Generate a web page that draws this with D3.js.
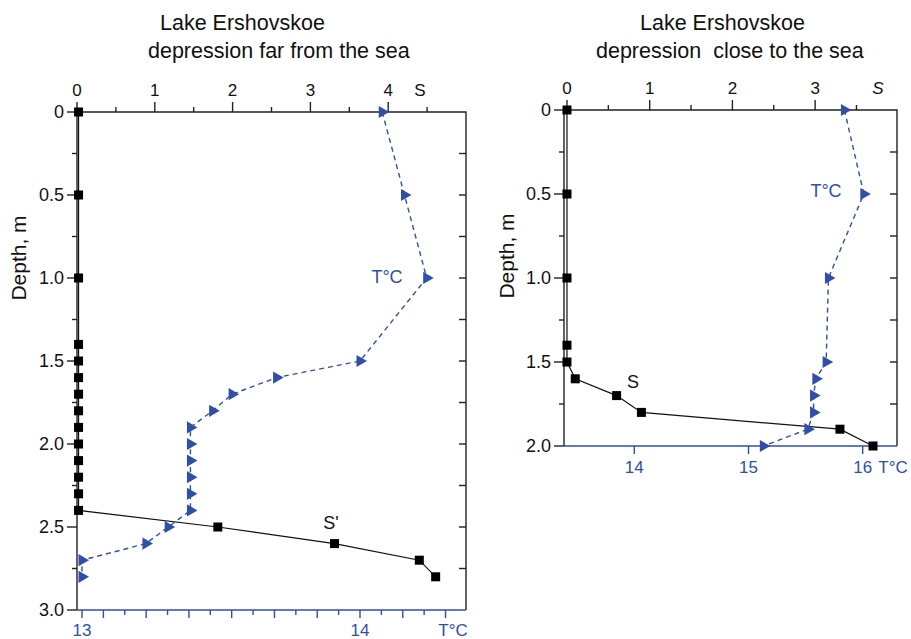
<!DOCTYPE html>
<html><head><meta charset="utf-8">
<script src="https://cdnjs.cloudflare.com/ajax/libs/d3/7.8.5/d3.min.js"></script>
<style>body{margin:0;background:#fff;} svg{display:block;font-family:"Liberation Sans",Arial,sans-serif;}</style>
</head><body><div id="chart"></div>
<script>
// ---- data ----
const titlesLeft = ["Lake Ershovskoe", "depression far from the sea"];
const titlesRight = ["Lake Ershovskoe", "depression  close to the sea"];

const depthTLeft = [0, 0.5, 1.0, 1.5, 1.6, 1.7, 1.8, 1.9, 2.0, 2.1, 2.2, 2.3, 2.4, 2.5, 2.6, 2.7, 2.8];
const tempLeft   = [14.08, 14.16, 14.24, 14.0, 13.70, 13.54, 13.47, 13.39, 13.39, 13.39, 13.39, 13.39, 13.39, 13.31, 13.23, 13.0, 13.0];
const depthSLeft = [0, 0.5, 1.0, 1.4, 1.5, 1.6, 1.7, 1.8, 1.9, 2.0, 2.1, 2.2, 2.3, 2.4, 2.5, 2.6, 2.7, 2.8];
const salLeft    = [0.02, 0.02, 0.02, 0.02, 0.02, 0.02, 0.02, 0.02, 0.02, 0.02, 0.02, 0.02, 0.02, 0.02, 1.81, 3.31, 4.40, 4.61];

const depthTRight = [0, 0.5, 1.0, 1.5, 1.6, 1.7, 1.8, 1.9, 2.0];
const tempRight   = [15.84, 16.01, 15.70, 15.68, 15.59, 15.57, 15.57, 15.52, 15.13];
const depthSRight = [0, 0.5, 1.0, 1.4, 1.5, 1.6, 1.7, 1.8, 1.9, 2.0];
const salRight    = [0, 0, 0, 0, 0, 0.10, 0.60, 0.90, 3.30, 3.70];

const sTicksLeft = [0, 1, 2, 3, 4];
const sTicksRight = [0, 1, 2, 3];
const depthTicksLeft = [0, 0.5, 1.0, 1.5, 2.0, 2.5, 3.0];
const depthTicksRight = [0, 0.5, 1.0, 1.5, 2.0];
const tTicksLeft = [13, 14];
const tTicksRight = [14, 15, 16];

// ---- drawing ----
const W = 911, H = 639;
const BLUE = "#2f4fa8";
const svg = d3.select("#chart").append("svg").attr("width", W).attr("height", H);

function panel(cfg) {
  const g = svg.append("g");
  const y = d3.scaleLinear().domain(cfg.depthDomain).range([cfg.top, cfg.bottom]);
  const xs = d3.scaleLinear().domain(cfg.sDomain).range([cfg.left, cfg.right]);
  const xt = d3.scaleLinear().domain(cfg.tRef).range(cfg.tRefPx);

  // frame: left, top, right in black
  g.append("path")
    .attr("d", `M${cfg.left},${cfg.bottom}V${cfg.top}H${cfg.right}V${cfg.bottom}`)
    .attr("fill", "none").attr("stroke", "#222").attr("stroke-width", 1.4);

  // left axis ticks (major every 0.5, minor every 0.25)
  const yMinor = d3.range(cfg.depthDomain[0], cfg.depthDomain[1] + 0.001, 0.25);
  g.selectAll(".ytick").data(yMinor).join("line")
    .attr("x1", d => cfg.left - (Math.abs(d * 2 - Math.round(d * 2)) < 1e-6 ? 10 : 5))
    .attr("x2", cfg.left).attr("y1", d => y(d)).attr("y2", d => y(d))
    .attr("stroke", "#222").attr("stroke-width", 1.4);
  g.selectAll(".ylab").data(cfg.depthTicks).join("text")
    .attr("x", cfg.left - 13).attr("y", d => y(d)).attr("dy", "0.36em")
    .attr("text-anchor", "end").attr("font-size", 18).attr("fill", "#111")
    .text(d => d === 0 ? "0" : d3.format(".1f")(d));
  // right inward ticks
  g.selectAll(".rtick").data(yMinor.filter(d => d > 0 && d < cfg.depthDomain[1])).join("line")
    .attr("x1", cfg.right - 7).attr("x2", cfg.right).attr("y1", d => y(d)).attr("y2", d => y(d))
    .attr("stroke", "#222").attr("stroke-width", 1.4);

  // top S axis
  const sMinor = d3.range(0, cfg.sDomain[1] + 0.001, 0.5).filter(v => xs(v) < cfg.right - 2);
  g.selectAll(".stick").data(sMinor).join("line")
    .attr("x1", d => xs(d)).attr("x2", d => xs(d))
    .attr("y1", d => cfg.top - (Number.isInteger(d) ? 10 : 5)).attr("y2", cfg.top)
    .attr("stroke", "#222").attr("stroke-width", 1.4);
  g.selectAll(".slab").data(cfg.sTicks).join("text")
    .attr("x", d => xs(d)).attr("y", cfg.top - 16)
    .attr("text-anchor", "middle").attr("font-size", 17).attr("fill", "#111").text(d => d);
  g.append("text").attr("x", cfg.sLabelX).attr("y", cfg.top - 16)
    .attr("text-anchor", "middle").attr("font-size", 17).attr("fill", "#111")
    .attr("font-style", cfg.sItalic ? "italic" : "normal").text("S");

  // bottom T axis (blue)
  g.append("line").attr("x1", cfg.left).attr("x2", cfg.right)
    .attr("y1", cfg.bottom).attr("y2", cfg.bottom)
    .attr("stroke", BLUE).attr("stroke-width", 1.7);
  g.selectAll(".ttick").data(cfg.tTickVals).join("line")
    .attr("x1", d => xt(d.v)).attr("x2", d => xt(d.v))
    .attr("y1", cfg.bottom).attr("y2", d => cfg.bottom + d.len)
    .attr("stroke", BLUE).attr("stroke-width", 1.4);
  g.selectAll(".tlab").data(cfg.tTicks).join("text")
    .attr("x", d => xt(d)).attr("y", cfg.bottom + cfg.tLabDy)
    .attr("text-anchor", "middle").attr("font-size", 17).attr("fill", BLUE).text(d => d);
  g.append("text").attr("x", cfg.tUnitX).attr("y", cfg.bottom + cfg.tLabDy)
    .attr("text-anchor", "middle").attr("font-size", 17).attr("fill", BLUE).text("T°C");

  // depth label
  g.append("text").attr("transform", `translate(${cfg.depthLabX},${cfg.depthLabY}) rotate(-90)`)
    .attr("text-anchor", "middle").attr("font-size", 21).attr("fill", "#111").text("Depth, m");

  // titles
  g.append("text").attr("x", cfg.title1X).attr("y", 30).attr("font-size", 21.5).attr("fill", "#111").text(cfg.titles[0]);
  g.append("text").attr("x", cfg.title2X).attr("y", 58).attr("font-size", 21.5).attr("fill", "#111")
    .attr("xml:space", "preserve").style("white-space", "pre").text(cfg.titles[1]);

  // S series
  const sPts = cfg.depthS.map((d, i) => [xs(cfg.sal[i]), y(d)]);
  g.append("path").attr("d", d3.line()(sPts)).attr("fill", "none").attr("stroke", "#111").attr("stroke-width", 1.2);
  g.selectAll(".sq").data(sPts).join("rect")
    .attr("x", d => d[0] - 4.5).attr("y", d => d[1] - 4.5).attr("width", 9).attr("height", 9).attr("fill", "#000");

  // T series
  const tPts = cfg.depthT.map((d, i) => [xt(cfg.temp[i]), y(d)]);
  g.append("path").attr("d", d3.line()(tPts)).attr("fill", "none").attr("stroke", BLUE)
    .attr("stroke-width", 1.4).attr("stroke-dasharray", "5,4");
  const tri = d3.symbol().type(d3.symbolTriangle).size(64);
  g.selectAll(".tri").data(tPts).join("path")
    .attr("d", tri).attr("transform", d => `translate(${d[0]},${d[1]}) rotate(90)`).attr("fill", BLUE);

  // annotations
  cfg.notes.forEach(n => g.append("text").attr("x", n.x).attr("y", n.y).attr("font-size", 18)
    .attr("fill", n.c).attr("text-anchor", "middle").text(n.t));
}

const leftTTicks = d3.range(0, 18).map(k => ({ v: 13 + k / 13, len: (k === 0 || k % 2 === 1) ? 8 : 5 }));

panel({
  left: 77, right: 466, top: 112, bottom: 610,
  depthDomain: [0, 3], sDomain: [0, 5],
  tRef: [13, 14], tRefPx: [82, 360],
  depthTicks: depthTicksLeft, sTicks: sTicksLeft, sLabelX: 420, sItalic: false,
  tTickVals: leftTTicks, tTicks: tTicksLeft, tUnitX: 453, tLabDy: 26,
  depthLabX: 26, depthLabY: 258,
  titles: titlesLeft, title1X: 160, title2X: 148,
  depthT: depthTLeft, temp: tempLeft, depthS: depthSLeft, sal: salLeft,
  notes: [{ x: 387, y: 283, t: "T°C", c: BLUE }, { x: 331, y: 529, t: "S'", c: "#111" }]
});

panel({
  left: 564, right: 897, top: 110, bottom: 446,
  depthDomain: [0, 2], sDomain: [-0.036, 3.99],
  tRef: [14, 16], tRefPx: [634.3, 862.7],
  depthTicks: depthTicksRight, sTicks: sTicksRight, sLabelX: 878, sItalic: true,
  tTickVals: tTicksRight.map(v => ({ v, len: 8 })), tTicks: tTicksRight, tUnitX: 893, tLabDy: 27,
  depthLabX: 514, depthLabY: 256,
  titles: titlesRight, title1X: 640, title2X: 596,
  depthT: depthTRight, temp: tempRight, depthS: depthSRight, sal: salRight,
  notes: [{ x: 826, y: 197, t: "T°C", c: BLUE }, { x: 633, y: 388, t: "S", c: "#111" }]
});
</script></body></html>
